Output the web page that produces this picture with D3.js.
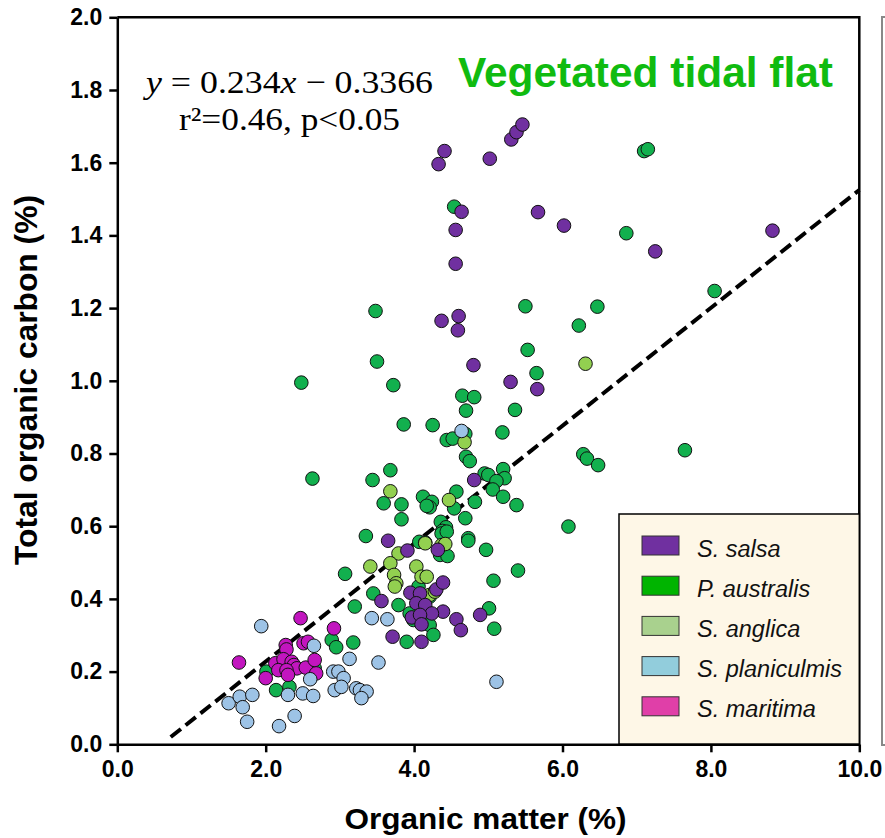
<!DOCTYPE html>
<html>
<head>
<meta charset="utf-8">
<script src="https://cdn.jsdelivr.net/npm/d3@7"></script>
<style>
  body { margin: 0; background: #fff; }
  svg { display: block; font-family: "Liberation Sans", Arial, sans-serif; }
  .axis text { font-size: 23px; font-weight: bold; fill: #000; font-family: "Liberation Sans", Arial, sans-serif; }
  .axis path, .axis line { stroke: #000; stroke-width: 2.5; }
  .point { stroke: #111; stroke-width: 1; }
</style>
</head>
<body>
<svg id="chart"></svg>
<script>
// species in legend order
const species = ['S. salsa', 'P. australis', 'S. anglica', 'S. planiculmis', 'S. maritima'];

// [organic matter %, total organic carbon %]
const salsa = [
  [4.41,1.632],[4.33,1.596],[5.02,1.611],[5.31,1.664],[5.38,1.684],[5.46,1.705],[4.64,1.465],[4.56,1.415],
  [4.56,1.322],[5.67,1.464],[6.02,1.427],[7.25,1.356],[8.83,1.413],[4.37,1.165],[4.60,1.178],[4.59,1.139],
  [4.80,1.043],[5.30,0.997],[5.66,0.977],[4.81,0.727],[3.65,0.560],[3.91,0.533],[4.32,0.535],[3.95,0.417],
  [4.08,0.415],[4.03,0.388],[4.15,0.383],[4.30,0.426],[4.39,0.445],[4.39,0.365],[4.24,0.360],[3.97,0.349],
  [4.08,0.356],[4.10,0.330],[4.57,0.344],[4.63,0.314],[4.89,0.356],[3.71,0.296],[4.10,0.282],[3.56,0.394]
];
const australis = [
  [4.54,1.479],[7.10,1.632],[7.15,1.637],[6.86,1.406],[8.05,1.247],[3.48,1.192],[3.50,1.053],[2.48,0.995],
  [3.72,0.988],[4.65,0.959],[4.81,0.955],[4.70,0.918],[3.86,0.880],[4.25,0.878],[4.44,0.837],[4.52,0.841],
  [4.69,0.854],[4.70,0.791],[4.75,0.779],[5.19,0.858],[2.63,0.731],[3.44,0.727],[3.68,0.754],[3.59,0.663],
  [3.83,0.660],[3.83,0.619],[4.12,0.681],[4.24,0.667],[4.21,0.652],[4.17,0.656],[4.57,0.695],[4.54,0.649],
  [4.69,0.622],[4.82,0.667],[4.95,0.745],[5.00,0.741],[5.20,0.757],[5.22,0.732],[5.11,0.724],[5.06,0.701],
  [5.20,0.681],[5.38,0.658],[4.36,0.612],[4.43,0.597],[4.38,0.587],[4.73,0.567],[5.50,1.205],[6.47,1.204],
  [6.22,1.152],[5.53,1.085],[5.65,1.021],[5.36,0.920],[6.28,0.798],[6.33,0.786],[6.48,0.768],[7.65,0.809],
  [6.08,0.599],[3.35,0.573],[3.07,0.469],[3.45,0.415],[3.20,0.379],[4.07,0.557],[4.15,0.555],[4.35,0.521],
  [4.45,0.518],[4.37,0.580],[4.44,0.585],[4.73,0.560],[4.97,0.535],[5.40,0.478],[5.07,0.450],[3.79,0.383],
  [3.94,0.360],[3.99,0.342],[4.12,0.333],[4.21,0.328],[4.26,0.301],[3.90,0.282],[5.01,0.374],[5.08,0.318],
  [4.06,0.434],[4.21,0.406],[2.89,0.287],[2.95,0.267],[3.18,0.280],[2.01,0.200],[2.14,0.149],[2.32,0.158],
  [2.66,0.209]
];
const anglica = [
  [4.68,0.831],[6.31,1.047],[3.68,0.696],[4.47,0.672],[3.41,0.489],[3.79,0.525],[3.68,0.498],[3.73,0.466],
  [3.76,0.443],[3.74,0.434],[4.03,0.489],[4.10,0.461],[4.17,0.461],[4.21,0.411],[4.28,0.420],[4.15,0.553],
  [4.37,0.548],[4.42,0.551]
];
const planiculmis = [
  [4.64,0.862],[5.11,0.172],[3.43,0.347],[3.64,0.344],[1.94,0.325],[2.65,0.271],[2.60,0.179],[2.30,0.136],
  [2.50,0.140],[2.64,0.133],[3.13,0.235],[3.52,0.225],[2.91,0.200],[2.98,0.200],[3.05,0.182],[2.93,0.149],
  [3.02,0.158],[3.22,0.154],[3.27,0.149],[3.36,0.145],[3.29,0.127],[1.50,0.113],[1.65,0.131],[1.82,0.136],
  [1.69,0.102],[1.75,0.062],[2.18,0.050],[2.39,0.078]
];
const maritima = [
  [2.47,0.347],[2.92,0.319],[2.27,0.273],[2.51,0.278],[2.57,0.282],[2.28,0.261],[1.64,0.225],[2.13,0.223],
  [2.24,0.234],[2.35,0.227],[2.38,0.218],[2.42,0.209],[2.54,0.211],[2.66,0.232],[2.17,0.204],[2.28,0.204],
  [2.30,0.191],[2.00,0.182],[2.68,0.195]
];

// dashed fit line as drawn (end points)
const trendX = [0.72, 10];
const trendY = [0.02, 1.525];

const xTicks = [0, 2, 4, 6, 8, 10];
const yTicks = [0, 0.2, 0.4, 0.6, 0.8, 1.0, 1.2, 1.4, 1.6, 1.8, 2.0];

class Scatterplot {

  constructor(_config) {
    this.config = {
      parentElement: _config.parentElement,
      containerWidth: _config.containerWidth || 885,
      containerHeight: _config.containerHeight || 838,
      margin: _config.margin || {top: 17.3, right: 25.7, bottom: 93.7, left: 117.3}
    };
    // marker fill and legend swatch fill per species
    this.markerColors = ['#7030A0', '#12B04E', '#92D050', '#9DC3E6', '#C215BF'];
    this.swatchColors = ['#7030A0', '#00B400', '#A9D18E', '#92CDDC', '#E03FA8'];
    this.initVis();
  }

  initVis() {
    let vis = this;
    vis.width = vis.config.containerWidth - vis.config.margin.left - vis.config.margin.right;
    vis.height = vis.config.containerHeight - vis.config.margin.top - vis.config.margin.bottom;

    vis.xScale = d3.scaleLinear().domain([0, 10]).range([0, vis.width]);
    vis.yScale = d3.scaleLinear().domain([0, 2]).range([vis.height, 0]);

    vis.xAxis = d3.axisBottom(vis.xScale)
        .tickValues(xTicks)
        .tickSize(8)
        .tickSizeOuter(0)
        .tickPadding(6)
        .tickFormat(d3.format('.1f'));

    vis.yAxis = d3.axisLeft(vis.yScale)
        .tickValues(yTicks)
        .tickSize(8)
        .tickSizeOuter(0)
        .tickPadding(7)
        .tickFormat(d3.format('.1f'));

    vis.svg = d3.select(vis.config.parentElement)
        .attr('width', vis.config.containerWidth)
        .attr('height', vis.config.containerHeight);

    // grey edge of the neighbouring panel
    vis.svg.append('path')
        .attr('d', 'M885,17 H882 V745 H885')
        .attr('fill', 'none')
        .attr('stroke', '#888')
        .attr('stroke-width', 2);

    vis.chart = vis.svg.append('g')
        .attr('transform', `translate(${vis.config.margin.left},${vis.config.margin.top})`);

    // top and right frame
    vis.chart.append('path')
        .attr('d', `M0,0 H${vis.width} V${vis.height}`)
        .attr('fill', 'none')
        .attr('stroke', '#000')
        .attr('stroke-width', 2.5);

    vis.trendG = vis.chart.append('g');
    vis.pointsG = vis.chart.append('g');
    vis.legendG = vis.chart.append('g');

    vis.xAxisG = vis.chart.append('g')
        .attr('class', 'axis x-axis')
        .attr('transform', `translate(0,${vis.height})`);
    vis.yAxisG = vis.chart.append('g')
        .attr('class', 'axis y-axis');

    // axis titles
    vis.svg.append('text')
        .attr('x', 485.5)
        .attr('y', 829)
        .attr('text-anchor', 'middle')
        .attr('font-size', 30)
        .attr('font-weight', 'bold')
        .attr('textLength', 282)
        .attr('lengthAdjust', 'spacingAndGlyphs')
        .text('Organic matter (%)');

    vis.svg.append('text')
        .attr('transform', 'translate(37,380) rotate(-90)')
        .attr('text-anchor', 'middle')
        .attr('font-size', 31)
        .attr('font-weight', 'bold')
        .attr('textLength', 370)
        .attr('lengthAdjust', 'spacingAndGlyphs')
        .text('Total organic carbon (%)');

    // panel title
    vis.svg.append('text')
        .attr('x', 458)
        .attr('y', 87)
        .attr('font-size', 42)
        .attr('font-weight', 'bold')
        .attr('fill', '#10BB10')
        .attr('textLength', 375)
        .attr('lengthAdjust', 'spacingAndGlyphs')
        .text('Vegetated tidal flat');

    // regression equation
    const eq = vis.svg.append('text')
        .attr('x', 146)
        .attr('y', 93)
        .attr('font-family', '"Liberation Serif", "DejaVu Serif", serif')
        .attr('font-size', 32)
        .attr('textLength', 287)
        .attr('lengthAdjust', 'spacingAndGlyphs');
    eq.append('tspan').attr('font-style', 'italic').text('y');
    eq.append('tspan').text(' = 0.234');
    eq.append('tspan').attr('font-style', 'italic').text('x');
    eq.append('tspan').text(' \u2212 0.3366');

    vis.svg.append('text')
        .attr('x', 179)
        .attr('y', 130)
        .attr('font-family', '"Liberation Serif", "DejaVu Serif", serif')
        .attr('font-size', 32)
        .attr('textLength', 221)
        .attr('lengthAdjust', 'spacingAndGlyphs')
        .text('r\u00B2=0.46, p<0.05');
  }

  updateVis() {
    let vis = this;
    vis.series = [salsa, australis, anglica, planiculmis, maritima].map((pts, i) => ({
      name: species[i],
      index: i,
      points: pts
    }));
    // draw order: P. australis, S. anglica, S. maritima, S. salsa, S. planiculmis
    vis.drawOrder = [1, 2, 4, 0, 3];
    vis.renderVis();
  }

  renderVis() {
    let vis = this;

    vis.trendG.append('line')
        .attr('x1', vis.xScale(trendX[0]))
        .attr('y1', vis.yScale(trendY[0]))
        .attr('x2', vis.xScale(trendX[1]))
        .attr('y2', vis.yScale(trendY[1]))
        .attr('stroke', '#000')
        .attr('stroke-width', 4)
        .attr('stroke-dasharray', '13,6');

    vis.pointsG.selectAll('.series')
        .data(vis.drawOrder.map(i => vis.series[i]))
      .join('g')
        .attr('class', 'series')
      .selectAll('.point')
        .data(d => d.points.map(p => ({x: p[0], y: p[1], i: d.index})))
      .join('circle')
        .attr('class', 'point')
        .attr('r', 6.8)
        .attr('cx', d => vis.xScale(d.x))
        .attr('cy', d => vis.yScale(d.y))
        .attr('fill', d => vis.markerColors[d.i]);

    // legend box in the lower right corner
    const lx = 619 - vis.config.margin.left;
    const ly = 514 - vis.config.margin.top;
    vis.legendG.append('rect')
        .attr('x', lx)
        .attr('y', ly)
        .attr('width', vis.width - lx)
        .attr('height', vis.height - ly)
        .attr('fill', '#FEF7E7')
        .attr('stroke', '#000')
        .attr('stroke-width', 1.5);

    const rows = vis.legendG.selectAll('.legend-row')
        .data(vis.series)
      .join('g')
        .attr('class', 'legend-row')
        .attr('transform', (d, i) => `translate(${lx + 23},${ly + 22 + i * 40.2})`);

    rows.append('rect')
        .attr('width', 37)
        .attr('height', 19)
        .attr('fill', d => vis.swatchColors[d.index])
        .attr('stroke', '#333')
        .attr('stroke-width', 1);

    rows.append('text')
        .attr('x', 55)
        .attr('y', 20.5)
        .attr('font-size', 23.5)
        .attr('font-style', 'italic')
        .attr('fill', '#111')
        .text(d => d.name);

    vis.xAxisG.call(vis.xAxis);
    vis.yAxisG.call(vis.yAxis);
    vis.xAxisG.selectAll('text').attr('dy', '0.8em');
  }
}

const plot = new Scatterplot({parentElement: '#chart'});
plot.updateVis();
</script>
</body>
</html>
